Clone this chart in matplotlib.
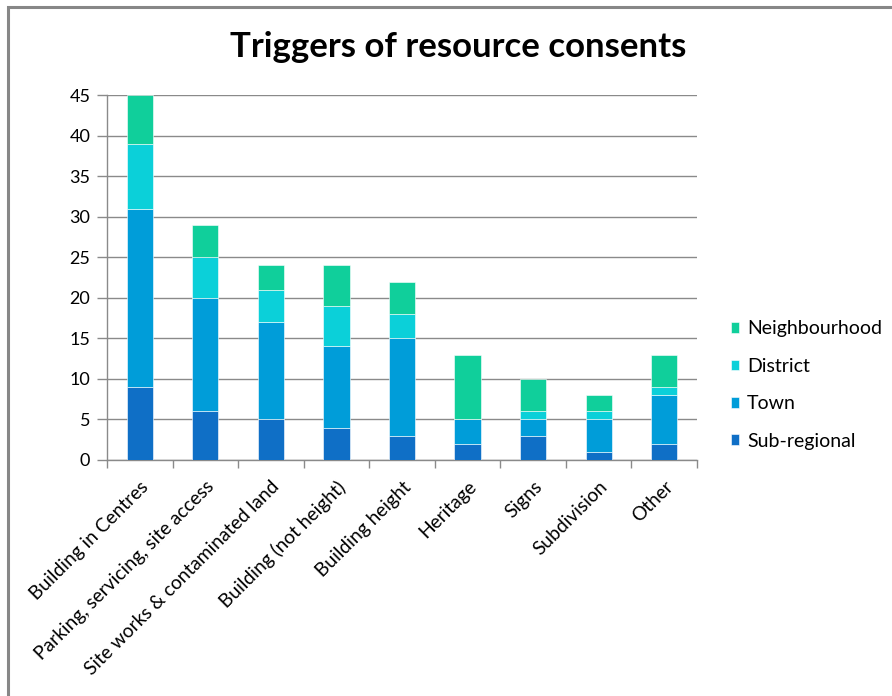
import matplotlib.pyplot as plt
import numpy as np
from matplotlib.patches import Rectangle

categories = [
    "Building in Centres",
    "Parking, servicing, site access",
    "Site works & contaminated land",
    "Building (not height)",
    "Building height",
    "Heritage",
    "Signs",
    "Subdivision",
    "Other",
]
sub_regional = [9, 6, 5, 4, 3, 2, 3, 1, 2]
town = [22, 14, 12, 10, 12, 3, 2, 4, 6]
district = [8, 5, 4, 5, 3, 0, 1, 1, 1]
neighbourhood = [6, 4, 3, 5, 4, 8, 4, 2, 4]

series = [
    ("Sub-regional", sub_regional, "#0F6FC6"),
    ("Town", town, "#009DD9"),
    ("District", district, "#0BD0D9"),
    ("Neighbourhood", neighbourhood, "#10CF9B"),
]

plt.rcParams['font.family'] = ['Lato', 'DejaVu Sans']

fig = plt.figure(figsize=(8.92, 6.96), dpi=100)
ax = fig.add_axes([107 / 892, 1 - 460 / 696, 590 / 892, 365 / 696])

x = np.arange(len(categories))
bottom = np.zeros(len(categories))
handles = []
for name, vals, color in series:
    b = ax.bar(x, vals, width=0.4, bottom=bottom, color=color,
               edgecolor="white", linewidth=0.4, label=name, zorder=3)
    handles.append(b)
    bottom += np.array(vals)

ax.set_xlim(-0.5, len(categories) - 0.5)
ax.set_ylim(0, 45)
ax.set_yticks(range(0, 46, 5))
ax.yaxis.grid(True, color="#8a8a8a", linewidth=1, zorder=0)

ax.set_xticks(x)
ax.set_xticklabels(categories, rotation=45, ha="right", rotation_mode="anchor",
                   fontsize=13.8)
ax.set_xticks(np.arange(-0.5, len(categories), 1), minor=True)
ax.tick_params(axis="x", which="major", length=0, pad=13)
ax.tick_params(axis="x", which="minor", length=6, color="#8a8a8a", width=1)
ax.tick_params(axis="y", length=7, color="#8a8a8a", width=1, labelsize=13,
               pad=5)

for s in ["top", "right"]:
    ax.spines[s].set_visible(False)
for s in ["left", "bottom"]:
    ax.spines[s].set_color("#8a8a8a")
    ax.spines[s].set_linewidth(1)

fig.text(458 / 892, 1 - 47 / 696, "Triggers of resource consents",
         ha="center", va="center", fontsize=25, fontweight="bold")

fig.legend(handles[::-1], [s[0] for s in series][::-1],
           loc="center left", bbox_to_anchor=(713 / 892, 1 - 385 / 696),
           frameon=False, fontsize=14, handlelength=0.45, handleheight=0.45,
           labelspacing=1.05, handletextpad=0.4)

border = Rectangle((8 / 892, -0.05), 1.2, 1 - 7 / 696 + 0.05,
                   transform=fig.transFigure, fill=False,
                   edgecolor="#878787", linewidth=2.2, clip_on=False)
fig.patches.append(border)

fig.savefig("out.png", dpi=100, facecolor="white")
